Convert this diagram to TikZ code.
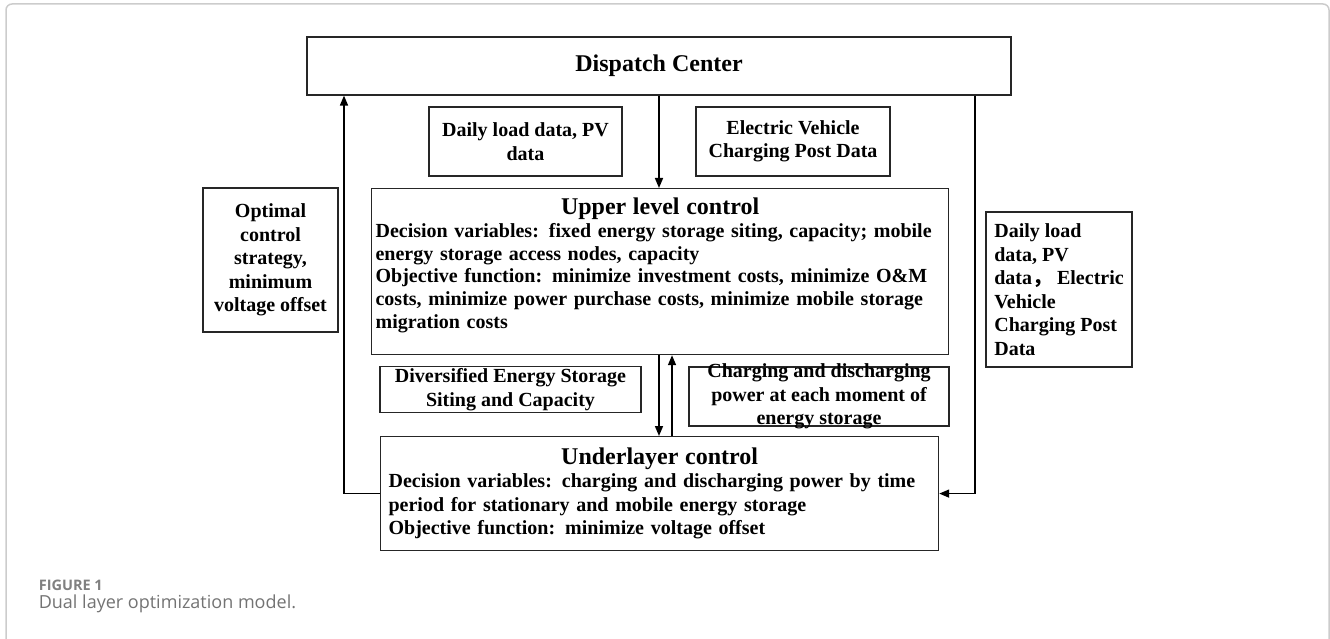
\documentclass[tikz,border=0pt]{standalone}
\usepackage{fontspec}
\setmainfont{Liberation Serif}
\newfontfamily\capfont{Open Sans}
\newfontfamily\cjk{Noto Sans CJK SC}
\usetikzlibrary{arrows.meta}

\begin{document}
\begin{tikzpicture}[x=1pt,y=-1pt,->,>={Triangle[length=10pt,width=8pt]},
                    line width=1.6pt,
                    box node/.style={rectangle,draw=black!85,line width=1.2pt,inner sep=2pt,align=center,
                                     font=\fontsize{20}{23.5}\selectfont\bfseries},
                    head node/.style={box node,font=\fontsize{24}{28}\selectfont\bfseries},
                    ctrl node/.style={box node,anchor=north west,align=left,
                                      font=\fontsize{20}{22.7}\selectfont\bfseries}]
  \useasboundingbox (0,0) rectangle (1330,639);
  \draw[-,draw=black!20,line width=1.5pt,rounded corners=6pt] (6,700) -- (6,4) -- (1329,4) -- (1329,700);

  \node[head node,minimum width=704pt,minimum height=58pt] (dc) at (659,66) {Dispatch Center};
  \node[box node,minimum width=193pt,minimum height=69pt] (load) at (525.5,141.5) {Daily load data, PV\\data};
  \node[box node,minimum width=194pt,minimum height=69pt] (ev) at (793,141.5) {Electric Vehicle\\Charging Post Data};
  \node[box node,minimum width=135pt,minimum height=144pt] (opt) at (270.5,260) {Optimal\\control\\strategy,\\minimum\\voltage offset};
  \node[box node,minimum width=146pt,minimum height=155pt,align=left] (rdata) at (1059,289.5)
    {Daily load\\data, PV\\data{\cjk ，} Electric\\Vehicle\\Charging Post\\Data};

  \node[ctrl node,minimum width=577pt,minimum height=166pt,inner xsep=4pt,text width=569pt] (upper) at (371,188)
    {{\centering\fontsize{24}{28}\selectfont Upper level control\par}
     Decision variables: fixed energy storage siting, capacity; mobile\\
     energy storage access nodes, capacity\\
     Objective function: minimize investment costs, minimize O\&M\\
     costs, minimize power purchase costs, minimize mobile storage\\
     migration costs\par\vspace{-6pt}\rule{0pt}{0pt}};

  \node[box node,minimum width=261pt,minimum height=45pt] (div) at (510.5,389.5) {Diversified Energy Storage\\Siting and Capacity};
  \node[box node,minimum width=260pt,minimum height=59pt] (chg) at (819,396.5) {};
  \node[box node,draw=none] (chgtxt) at (chg.center) {Charging and discharging\\power at each moment of\\energy storage};

  \node[ctrl node,minimum width=558pt,minimum height=114pt,inner xsep=8pt,text width=542pt,
        font=\fontsize{20}{23.5}\selectfont\bfseries] (under) at (380,436)
    {{\centering\fontsize{24}{28}\selectfont Underlayer control\par}
     Decision variables: charging and discharging power by time\\
     period for stationary and mobile energy storage\\
     Objective function: minimize voltage offset};

  \coordinate (midup) at (672,0);
  \coordinate (lft) at (344,0);
  \coordinate (rgt) at (975,0);

  \draw (dc.south) -- (dc.south |- upper.north);
  \draw (dc.south |- upper.south) -- (dc.south |- under.north);
  \draw (midup |- under.north) -- (midup |- upper.south);
  \draw (under.west) -| (lft |- dc.south);
  \draw (rgt |- dc.south) |- (under.east);

  \node[anchor=base west,inner sep=0,text=black!50,font=\capfont\bfseries\fontsize{14.5}{16}\selectfont] (fig) at (38,590) {FIGURE 1};
  \node[anchor=base west,inner sep=0,text=black!55,font=\capfont\fontsize{18}{20}\selectfont] (cap) at (38,608) {Dual layer optimization model.};
\end{tikzpicture}
\end{document}
